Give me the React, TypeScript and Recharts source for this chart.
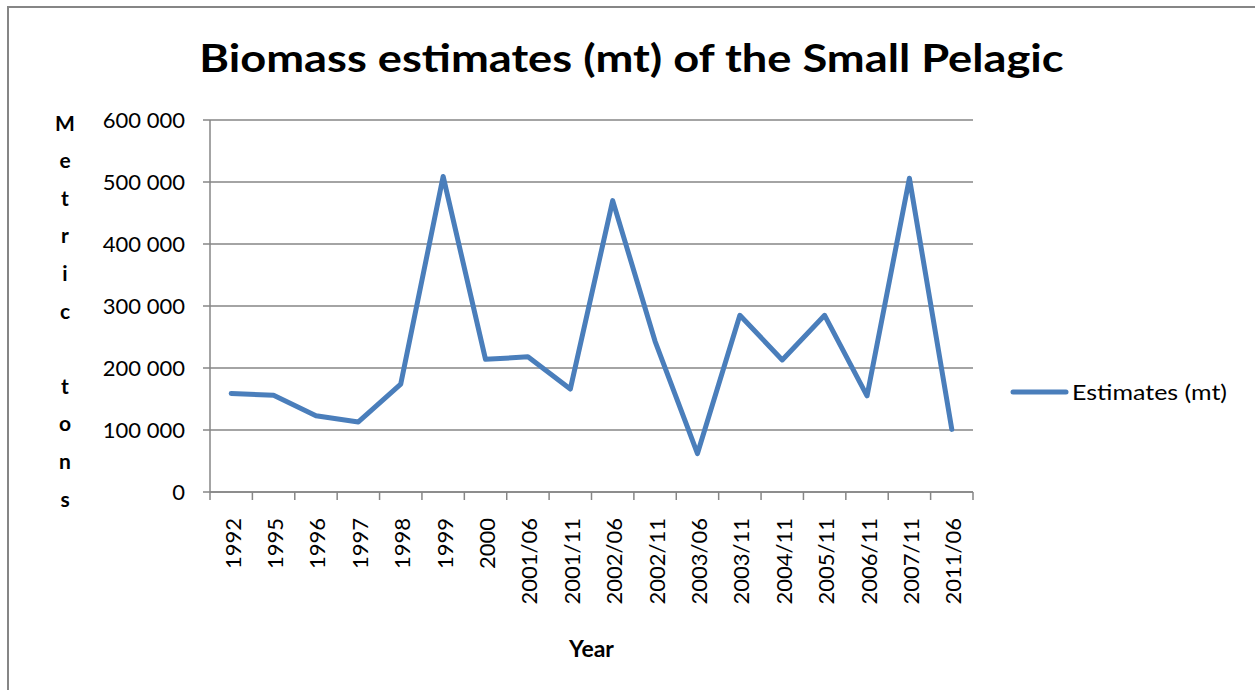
import React from 'react';
import {
  LineChart,
  Line,
  XAxis,
  YAxis,
  CartesianGrid,
  Legend,
} from 'recharts';

// Survey periods along the x axis
const PERIODS = [
  '1992', '1995', '1996', '1997', '1998', '1999', '2000',
  '2001/06', '2001/11', '2002/06', '2002/11', '2003/06',
  '2003/11', '2004/11', '2005/11', '2006/11', '2007/11', '2011/06',
];

// Biomass estimates in metric tons
const ESTIMATES = [
  159000, 156000, 123000, 113000, 174000, 509000, 214000,
  218000, 166000, 470000, 243000, 62000,
  285000, 213000, 285000, 155000, 506000, 101000,
];

const Y_TICKS = [0, 100000, 200000, 300000, 400000, 500000, 600000];
const Y_LABEL_LETTERS = ['M', 'e', 't', 'r', 'i', 'c', '', 't', 'o', 'n', 's'];

const SERIES_NAME = 'Estimates (mt)';
const LINE_COLOR = '#4A7EBB';
const AXIS_COLOR = '#868686';
const FONT = 'Lato, "Open Sans", sans-serif';

const data = PERIODS.map((period, i) => ({
  period,
  estimate: ESTIMATES[i],
}));

// space as thousands separator, like "600 000"
const formatTons = (v: number) =>
  String(v).replace(/\B(?=(\d{3})+(?!\d))/g, ' ');

const PeriodTick = (props: any) => {
  const { x, y, payload, index, visibleTicksCount } = props;
  const half = payload && payload.offset ? payload.offset : 763 / 36;
  const isLast = index === visibleTicksCount - 1;
  return (
    <g>
      <line x1={x - half} x2={x - half} y1={y} y2={y + 8} stroke={AXIS_COLOR} strokeWidth={1.5} />
      {isLast && (
        <line x1={x + half} x2={x + half} y1={y} y2={y + 8} stroke={AXIS_COLOR} strokeWidth={1.5} />
      )}
      <text
        transform={`translate(${x + 1}, ${y + 26}) rotate(-90)`}
        textAnchor="end"
        dominantBaseline="central"
        fontSize={22}
        fontFamily={FONT}
        fill="#000"
      >
        {payload.value}
      </text>
    </g>
  );
};

const StackedYLabel = (props: any) => {
  const { viewBox } = props;
  const x0 = (viewBox?.x ?? 0) + 65;
  const y0 = (viewBox?.y ?? 120) + 2;
  return (
    <text fontFamily={FONT} fontWeight="bold" fontSize={21} fill="#000" textAnchor="middle">
      {Y_LABEL_LETTERS.map((ch, i) => (
        <tspan key={i} x={x0} y={y0 + i * 37.6} dominantBaseline="central">
          {ch}
        </tspan>
      ))}
    </text>
  );
};

const LegendContent = () => (
  <svg width={240} height={30} style={{ overflow: 'visible' }}>
    <line x1={2} x2={55} y1={14} y2={14} stroke={LINE_COLOR} strokeWidth={5} strokeLinecap="round" />
    <text
      transform="translate(61, 14) scale(1.19, 1)"
      dominantBaseline="central"
      fontSize={21}
      fontFamily={FONT}
      fill="#000"
    >
      {SERIES_NAME}
    </text>
  </svg>
);

export default function App() {
  return (
    <div
      style={{
        position: 'absolute',
        left: 0,
        top: 0,
        width: 1255,
        height: 690,
        overflow: 'hidden',
        background: '#fff',
        fontFamily: FONT,
      }}
    >
      {/* chart frame, runs off the right and bottom edge */}
      <div
        style={{
          position: 'absolute',
          left: 7,
          top: 6,
          width: 1300,
          height: 740,
          border: `2px solid ${AXIS_COLOR}`,
        }}
      />
      <div
        style={{
          position: 'absolute',
          left: 0,
          width: 1263,
          top: 34,
          textAlign: 'center',
          fontSize: 39,
          fontWeight: 'bold',
          lineHeight: '46px',
          color: '#000',
          transform: 'scaleX(1.16)',
          transformOrigin: 'center',
        }}
      >
        Biomass estimates (mt) of the Small Pelagic
      </div>
      <div style={{ position: 'absolute', left: 0, top: 0 }}>
        <LineChart
          width={1255}
          height={690}
          data={data}
          margin={{ top: 120, right: 282, bottom: 0, left: 0 }}
        >
          <CartesianGrid vertical={false} stroke={AXIS_COLOR} strokeWidth={1.5} />
          <XAxis
            dataKey="period"
            scale="band"
            height={198}
            interval={0}
            tickLine={false}
            tickSize={0}
            tickMargin={0}
            axisLine={{ stroke: AXIS_COLOR, strokeWidth: 1.5 }}
            tick={<PeriodTick />}
            label={{
              value: 'Year',
              position: 'insideBottom',
              offset: 33,
              fontSize: 23,
              fontWeight: 'bold',
              fontFamily: FONT,
              fill: '#000',
            }}
          />
          <YAxis
            width={210}
            domain={[0, 600000]}
            ticks={Y_TICKS}
            interval={0}
            tickFormatter={formatTons}
            tickSize={7}
            tickMargin={18}
            tickLine={{ stroke: AXIS_COLOR, strokeWidth: 1.5 }}
            axisLine={{ stroke: AXIS_COLOR, strokeWidth: 1.5 }}
            tick={{ fontSize: 22, fill: '#000', fontFamily: FONT }}
            label={{ content: <StackedYLabel /> }}
          />
          <Legend
            layout="horizontal"
            align="center"
            verticalAlign="middle"
            content={<LegendContent />}
            wrapperStyle={{ left: 1011, top: 378, width: 240, height: 30 }}
          />
          <Line
            type="linear"
            dataKey="estimate"
            name={SERIES_NAME}
            stroke={LINE_COLOR}
            strokeWidth={5}
            strokeLinejoin="round"
            strokeLinecap="round"
            dot={false}
            activeDot={false}
            isAnimationActive={false}
          />
        </LineChart>
      </div>
    </div>
  );
}
